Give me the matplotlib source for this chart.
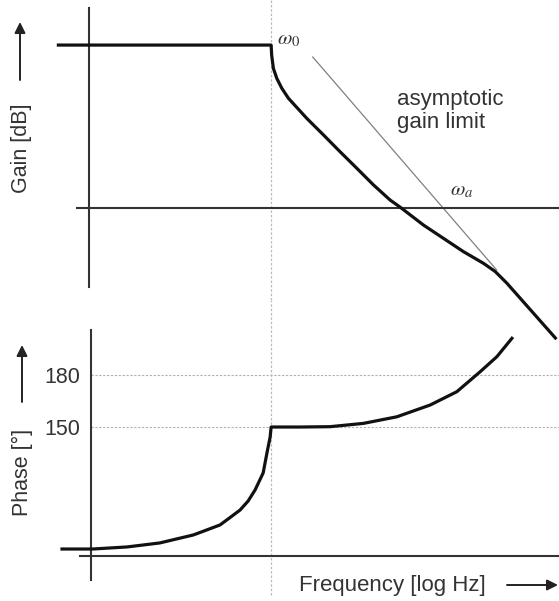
# Bode diagram sketch: gain and phase vs. log frequency

import numpy as np
import matplotlib.pyplot as plt

plt.rcParams['font.family'] = ['Liberation Sans', 'DejaVu Sans']
plt.rcParams['mathtext.fontset'] = 'stix'

# Frequency in log units, corner frequencies
w0 = 2.0
wa = 3.9

# Gain curve [dB]
gain_x = [-0.35, 2.0, 2.006, 2.025, 2.063, 2.118, 2.191, 2.394, 2.578,
          2.762, 2.947, 3.130, 3.315, 3.425, 3.683, 3.904, 4.125, 4.346,
          4.475, 4.604, 5.14]
gain_db = [60, 60, 56.3, 51.4, 47.7, 44.1, 40.4, 33.0, 26.9,
           20.7, 14.6, 8.5, 2.9, 0.3, -6.3, -11.2, -16.1, -20.4,
           -23.4, -27.7, -47.9]

# Asymptotic gain limit
asym_x = [2.46, 4.49]
asym_db = [55.6, -22.8]

# Phase curve [deg]
phase_x = [-0.31, 0.03, 0.41, 0.77, 1.14, 1.289, 1.436, 1.547, 1.657, 1.746,
           1.823, 1.912, 1.956, 1.989, 2.0,
           2.32, 2.652, 3.02, 3.389, 3.757, 4.052, 4.309, 4.494, 4.66]
phase_deg = [79.6, 79.6, 80.8, 83.1, 87.7, 90.6, 93.5, 97.8, 102.1, 107.3,
             113.7, 123.5, 135.6, 144.2, 150,
             150, 150.2, 152.1, 155.9, 162.7, 170.4, 181.9, 190.6, 201.2]
phase_ticks = [150, 180]

W, H = 559, 601
fig = plt.figure(figsize=(W / 100, H / 100), dpi=100)

def fp(x, y):
    # pixel -> figure fraction
    return x / W, 1 - y / H

ax1 = fig.add_axes([0, 1 - 300 / H, 1, 300 / H])
ax2 = fig.add_axes([0, 0, 1, 301 / H])
xlim = (-0.995, 5.18)
ax1.set_xlim(xlim)
ax1.set_ylim(-33.9, 76.6)
ax2.set_xlim(xlim)
ax2.set_ylim(49.6, 223.3)

axcol = '#333333'
for ax in (ax1, ax2):
    ax.patch.set_visible(False)
    ax.spines['top'].set_visible(False)
    ax.spines['right'].set_visible(False)
    for s in ('left', 'bottom'):
        ax.spines[s].set_color(axcol)
        ax.spines[s].set_linewidth(1.5)
    ax.set_xticks([])

# gain axes
ax1.spines['left'].set_position(('data', -0.01))
ax1.spines['left'].set_bounds(-29.1, 73.6)
ax1.spines['bottom'].set_position(('data', 0))
ax1.spines['bottom'].set_bounds(-0.14, xlim[1])
ax1.set_yticks([])

# phase axes
ax2.spines['left'].set_position(('data', 0.01))
ax2.spines['left'].set_bounds(61.7, 206)
ax2.spines['bottom'].set_position(('data', 75.6))
ax2.spines['bottom'].set_bounds(-0.11, xlim[1])
ax2.set_yticks(phase_ticks)
ax2.tick_params(axis='y', length=0, pad=8, labelsize=15.5, labelcolor=axcol)

# dotted helper lines
dot = (0, (2, 1.5))
ax2.hlines(phase_ticks, 0.01, xlim[1], colors='#b0b0b0', linestyles=dot, lw=0.8)
ax1.axvline(w0, color='#bbbbbb', lw=0.9, ls=dot)
ax2.axvline(w0, ymin=0.02, color='#bbbbbb', lw=0.9, ls=dot)

# curves
ax1.plot(asym_x, asym_db, color='#808080', lw=0.9)
ax1.plot(gain_x, gain_db, color='#111111', lw=2.3, clip_on=False,
         solid_joinstyle='round', zorder=5)
ax2.plot(phase_x, phase_deg, color='#111111', lw=2.3,
         solid_joinstyle='round', zorder=5)

# annotations
ax1.text(w0 + 0.07, 62, r'$\omega_0$', fontsize=15, color=axcol, va='center')
ax1.text(wa + 0.08, 6.5, r'$\omega_a$', fontsize=15, color=axcol, va='center')
fig.text(*fp(397, 89), 'asymptotic\ngain limit', fontsize=16, color=axcol,
         va='top', ha='left', linespacing=1.1)

fig.text(*fp(22, 148), 'Gain [dB]', fontsize=15.5, color=axcol,
         rotation=90, ha='center', va='center')
fig.text(*fp(22, 472), 'Phase [°]', fontsize=15.5, color=axcol,
         rotation=90, ha='center', va='center')
fig.text(*fp(392, 586), 'Frequency [log Hz]', fontsize=16, color=axcol,
         ha='center', va='center')

arr = dict(arrowstyle='-|>', lw=1.4, color='#222222', mutation_scale=16,
           shrinkA=0, shrinkB=0)
fig.add_artist(plt.Annotation('', xy=fp(20, 22), xytext=fp(20, 80),
                              xycoords='figure fraction', arrowprops=arr))
fig.add_artist(plt.Annotation('', xy=fp(22, 345), xytext=fp(22, 402),
                              xycoords='figure fraction', arrowprops=arr))
fig.add_artist(plt.Annotation('', xy=fp(558, 585), xytext=fp(507, 585),
                              xycoords='figure fraction', arrowprops=arr))

fig.savefig('out.png', dpi=100, facecolor='white')
